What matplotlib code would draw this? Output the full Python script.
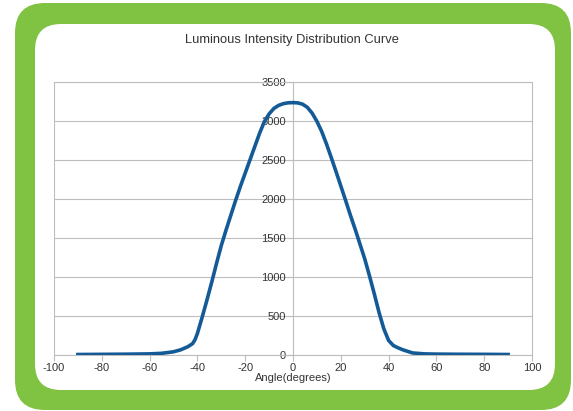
import matplotlib
matplotlib.use('Agg')
import matplotlib.pyplot as plt
import matplotlib.transforms as mtransforms
from matplotlib.patches import FancyBboxPatch

plt.rcParams['font.family'] = ['Liberation Sans', 'DejaVu Sans']
plt.rcParams['axes.unicode_minus'] = False

# --- data ---
angles = [-90, -80, -70, -60, -55, -50, -47, -44, -42, -41, -40, -38, -36, -34, -32, -30, -28, -26,
          -24, -22, -20, -18, -16, -14, -12, -10, -8, -6, -4, -2, 0,
          2, 4, 6, 8, 10, 12, 14, 16, 18, 20, 22, 24, 26, 28, 30, 32, 34, 36, 38, 40, 42, 44, 46,
          50, 55, 60, 70, 80, 90]
intensity = [0, 2, 4, 8, 15, 35, 60, 100, 140, 190, 270, 480, 700, 930, 1170, 1400, 1600, 1790,
             1980, 2160, 2330, 2500, 2670, 2840, 2990, 3090, 3160, 3200, 3222, 3233, 3235,
             3232, 3215, 3175, 3100, 2995, 2865, 2705, 2530, 2350, 2165, 1980, 1790, 1610, 1420,
             1230, 1010, 780, 540, 330, 180, 115, 85, 60,
             20, 8, 5, 3, 2, 0]

x_ticks = [-100, -80, -60, -40, -20, 0, 20, 40, 60, 80, 100]
y_ticks = [0, 500, 1000, 1500, 2000, 2500, 3000, 3500]

title = 'Luminous Intensity Distribution Curve'
xlabel = 'Angle(degrees)'

W, H = 573, 411
fig = plt.figure(figsize=(W / 100, H / 100), dpi=100)
fig.patch.set_facecolor('white')

# green rounded frame + white card (pixel coords, origin bottom-left)
ident = mtransforms.IdentityTransform()
outer = FancyBboxPatch((15, 1), 556, 407, boxstyle='round,pad=0,rounding_size=30',
                       transform=ident, facecolor='#80c241', edgecolor='none', zorder=0)
inner = FancyBboxPatch((35, 21), 520, 366, boxstyle='round,pad=0,rounding_size=26',
                       transform=ident, facecolor='white', edgecolor='none', zorder=1)
fig.add_artist(outer)
fig.add_artist(inner)

ax = fig.add_axes([54 / W, (H - 354.5) / H, 478 / W, 272.5 / H])
ax.set_zorder(2)
ax.patch.set_alpha(0)

grid_c = '#bdbdbd'
ax.plot(angles, intensity, color='#135a97', lw=2.6, solid_joinstyle='round', zorder=3)

ax.set_xlim(-100, 100)
ax.set_ylim(0, 3500)
ax.set_xticks(x_ticks)
ax.set_yticks(y_ticks)
ax.yaxis.grid(True, color=grid_c, lw=0.8)
ax.set_axisbelow(True)
ax.axvline(-100, color=grid_c, lw=0.8)

for s in ['top', 'right', 'bottom', 'left']:
    ax.spines[s].set_color(grid_c)
    ax.spines[s].set_linewidth(0.8)
ax.spines['left'].set_position(('data', 0))

ax.tick_params(axis='both', colors=grid_c, labelcolor='#333333', labelsize=8, width=0.8)
ax.tick_params(axis='x', length=4, pad=2)
ax.tick_params(axis='y', length=4, pad=1)

ax.text(0.5, -0.085, xlabel, transform=ax.transAxes, ha='center', va='center',
        fontsize=8, color='#333333')
fig.text(292 / W, (H - 40) / H, title, ha='center', va='center', fontsize=9.3, color='#333333')

fig.savefig('out.png', dpi=100)
